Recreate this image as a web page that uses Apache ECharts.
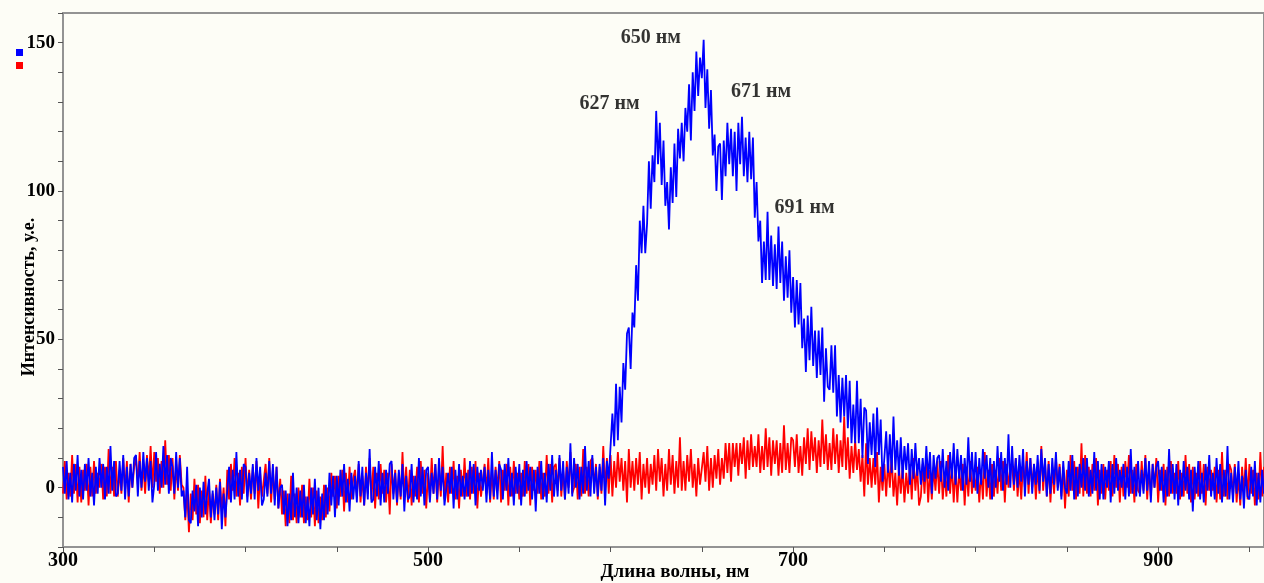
<!DOCTYPE html>
<html>
<head>
<meta charset="utf-8">
<script src="https://cdn.jsdelivr.net/npm/echarts@6/dist/echarts.min.js"></script>
<style>
html,body{margin:0;padding:0;background:#fdfdf6;}
#chart{width:1264px;height:583px;}
</style>
</head>
<body>
<div id="chart"></div>
<script>
// Wavelength sampling grid (nm): first sample and spacing
const startNm = 300;
const stepNm = 1;

// Blue spectrum (one value per nm, 300..959 nm; one row = 10 nm)
const blueValues = [
  7,-2,9,-4,5,-5,8,-1,11,-3,
  6,-4,8,-1,10,-3,5,-6,7,-2,
  10,0,8,-4,7,-2,14,-1,9,-3,
  -2,9,-1,11,-4,7,-3,8,0,10,
  11,-3,9,0,12,2,10,-1,9,-5,
  1,12,-1,8,0,14,1,11,-2,10,
  7,-2,12,0,10,-3,-1,-10,7,-11,
  -12,-1,-8,1,-13,0,-10,2,-9,-2,
  3,-10,-1,-11,0,-9,2,-14,-2,-10,
  -1,7,-5,6,-4,12,-3,6,-4,8,
  7,-5,5,-2,8,-4,10,-1,7,-6,
  -4,5,-3,9,-2,8,-6,7,-7,0,
  1,-9,-1,-13,-2,-11,5,-10,0,-12,
  -1,-10,1,-12,-3,-13,0,-9,3,-11,
  0,-14,-2,-11,1,-9,5,-6,4,-10,
  4,-6,6,-3,8,-5,3,-8,5,-4,
  4,-5,9,-3,7,-6,5,-4,13,-5,
  -4,7,-3,9,-6,5,-5,6,-2,8,
  9,-4,5,-5,6,-3,8,-8,4,-4,
  -3,8,-5,4,-4,10,-3,7,-6,6,
  7,-5,5,-2,8,-4,10,-1,7,-6,
  -6,5,-2,7,-7,6,-4,8,-3,4,
  -4,5,-3,9,-2,8,-6,7,-1,6,
  -1,7,-5,6,-4,12,-3,6,-4,8,
  6,-4,8,-1,10,-3,5,-6,7,-2,
  8,-6,6,-3,9,-1,7,-4,6,-8,
  7,-2,9,-4,5,-5,8,-1,11,-3,
  6,-3,11,-1,9,-4,7,-2,15,-3,
  10,0,8,-4,7,-2,14,-1,9,-3,
  11,-2,7,-3,8,-1,10,-6,9,3,
  3,25,14,35,16,34,22,42,33,52,
  54,40,59,54,75,63,90,79,95,79,
  89,110,94,112,103,127,109,123,102,117,
  95,103,87,108,96,116,98,121,111,123,
  110,128,120,136,117,140,127,147,132,145,
  138,151,128,141,121,134,112,119,100,115,
  116,97,117,105,123,109,121,105,120,100,
  123,109,125,105,118,103,120,104,118,91,
  103,83,90,69,83,70,93,70,85,68,
  82,67,88,69,83,63,78,64,80,59,
  71,54,70,55,69,47,57,39,58,43,
  61,41,53,37,53,38,54,29,47,34,
  33,48,32,48,24,38,22,37,24,38,
  20,36,15,28,15,36,15,30,10,27,
  26,8,22,11,25,7,27,11,23,2,
  10,19,5,18,5,24,6,16,4,17,
  3,14,6,15,1,13,3,15,4,10,
  1,10,2,14,3,12,-2,11,3,10,
  11,2,13,0,9,-1,12,3,15,1,
  13,3,11,-1,10,1,17,2,12,0,
  12,-2,10,1,13,3,11,0,10,-4,
  9,0,14,2,12,-1,10,1,18,0,
  14,1,10,0,11,2,13,-3,9,1,
  10,-2,8,1,11,-1,13,2,10,-3,
  8,-2,10,1,12,-1,7,-4,9,0,
  -2,9,-1,11,-4,7,-3,8,0,10,
  -1,10,-3,6,-2,12,-1,9,-4,8,
  -4,7,0,9,-5,8,-2,10,-1,6,
  0,8,-4,7,-3,13,-2,7,-3,9,
  -3,6,-2,10,-1,9,-5,8,0,7,
  9,-1,7,-5,6,-3,13,-2,8,-4,
  8,-6,6,-3,9,-1,7,-4,6,-8,
  7,-2,9,-4,5,-5,8,-1,11,-3,
  5,-4,10,-2,8,-5,6,-3,14,-4,
  5,-5,7,-2,9,-4,4,-7,6,-3,
  -4,7,-3,9,-6,5,-5,6,-2,8
];

// Red spectrum (one value per nm, 300..959 nm; one row = 10 nm)
const redValues = [
  -2,9,-4,5,-3,11,-2,8,-5,7,
  -5,6,-1,8,-6,7,-3,9,-2,5,
  0,8,-4,7,-3,13,-2,7,-3,9,
  -3,6,-2,10,-1,9,-5,8,0,7,
  10,1,12,-1,8,-2,11,2,14,0,
  12,2,10,-2,9,0,16,1,11,-1,
  10,-4,8,-1,11,1,0,-11,-1,-15,
  -2,-11,3,-9,1,-12,-1,-10,4,-11,
  0,-12,-2,-9,1,-11,3,-8,0,-13,
  6,-4,8,-1,10,-3,5,-6,7,-2,
  10,-3,6,-4,7,-2,9,-7,5,-3,
  -3,8,-2,10,-5,6,-4,7,-7,3,
  -9,-1,-13,-2,-12,4,-11,-2,-12,0,
  -10,1,-12,-3,-11,3,-10,0,-13,-1,
  -12,-3,-11,1,-10,0,-8,5,-3,4,
  -7,4,-3,6,-8,5,-5,7,-4,3,
  6,-3,8,-5,4,-6,7,-2,10,-4,
  7,-7,5,-4,8,-2,6,-5,5,-9,
  8,-2,6,-6,5,-4,12,-3,7,-5,
  6,-6,4,-3,7,-5,9,-2,6,-7,
  5,-4,10,-2,8,-5,6,-3,14,-4,
  5,-5,7,-2,9,-4,4,-7,6,-3,
  10,-3,6,-4,7,-2,9,-7,5,-3,
  -3,8,-2,10,-5,6,-4,7,-1,9,
  -5,6,-1,8,-6,7,-3,9,-2,5,
  -4,5,-3,9,-2,8,-6,7,-1,6,
  -2,9,-4,5,-3,11,-2,8,-5,7,
  8,-1,10,-3,6,-4,9,0,12,-2,
  0,8,-4,7,-3,13,-2,7,-3,9,
  10,0,8,-4,7,-2,14,-1,10,-2,
  11,-3,9,0,12,2,10,-1,9,-5,
  13,0,9,-1,10,1,12,-4,8,0,
  10,-2,8,1,11,-1,13,2,10,-3,
  8,-1,13,1,11,-2,9,0,17,-1,
  9,-1,11,2,13,0,8,-3,10,1,
  1,12,2,14,-1,10,0,11,3,13,
  1,10,3,15,5,15,2,15,7,15,
  4,15,8,17,3,16,6,18,7,14,
  7,18,5,14,6,20,7,17,4,16,
  8,16,4,15,5,21,6,15,5,17,
  16,7,18,5,14,4,17,8,20,6,
  19,9,17,5,16,7,23,8,18,6,
  15,6,20,8,18,5,16,7,24,6,
  17,3,14,5,16,6,13,2,11,-3,
  15,1,10,0,10,1,12,-5,7,-1,
  8,-3,9,0,11,-3,5,-6,7,-2,
  7,-5,5,-2,8,-4,10,-1,7,-6,
  -3,8,-2,10,-5,6,-4,7,-1,9,
  -2,9,-4,5,-3,11,-2,8,-5,7,
  -5,6,-1,8,-6,7,-3,9,-2,5,
  -1,7,-5,6,-4,12,-3,6,-4,8,
  -3,6,-2,10,-1,9,-5,8,0,7,
  8,-1,10,-3,6,-4,9,0,12,-2,
  10,0,8,-4,7,-2,14,-1,9,-3,
  9,-5,7,-2,10,0,8,-3,7,-7,
  6,-3,11,-1,9,-4,7,-2,15,-3,
  11,-2,7,-3,8,-1,10,-6,6,-2,
  8,-4,6,-1,9,-3,11,0,8,-5,
  7,-3,9,0,11,-2,6,-5,8,-1,
  -2,9,-1,11,-4,7,-3,8,0,10,
  -5,6,-1,8,-6,7,-3,9,-2,5,
  -2,9,-4,5,-3,11,-2,8,-5,7,
  -4,5,-3,9,-2,8,-6,7,-1,6,
  -1,7,-5,6,-4,12,-3,6,-4,8,
  6,-3,8,-5,4,-6,7,-2,10,-4,
  8,-2,6,-6,5,-4,12,-3,7,-5
];

// Peak annotations: [text, wavelength of label centre, intensity of label centre]
const peakLabels = [
  ['650 нм', 622, 151.5],
  ['627 нм', 599.5, 129.5],
  ['671 нм', 682.5, 133.3],
  ['691 нм', 706.3, 94.4]
];

const xTickLabels = [300, 500, 700, 900];
const yTickLabels = [0, 50, 100, 150];

const xAxisName = 'Длина волны, нм';
const yAxisName = 'Интенсивность, у.е.';

const toPairs = vals => vals.map((v, i) => [startNm + i * stepNm, v]);

const font = '"Liberation Serif", "Times New Roman", serif';
const chart = echarts.init(document.getElementById('chart'), null, {renderer: 'canvas'});
chart.setOption({
  animation: false,
  backgroundColor: '#fdfdf6',
  grid: {
    left: 63, right: 0, top: 13, bottom: 36,
    containLabel: false, outerBoundsMode: 'none',
    show: true, borderColor: '#939393', borderWidth: 2, backgroundColor: 'transparent'
  },
  legend: {
    left: 11, top: 44, orient: 'vertical', itemWidth: 7, itemHeight: 7, itemGap: 6,
    icon: 'rect', formatter: () => '', selectedMode: false,
    data: ['blue', 'red'],
    textStyle: {fontSize: 1}
  },
  xAxis: {
    type: 'value', min: 300, max: 958, interval: 50,
    name: xAxisName, nameLocation: 'middle', nameGap: 16, nameMoveOverlap: false,
    nameTextStyle: {fontFamily: font, fontWeight: 'bold', fontSize: 19, color: '#000', padding: [0, 0, 0, 23]},
    axisLine: {show: true, onZero: false, lineStyle: {color: '#939393', width: 2}},
    axisTick: {show: true, length: 5, lineStyle: {color: '#555', width: 1}},
    axisLabel: {
      margin: 4, fontFamily: font, fontWeight: 'bold', fontSize: 20, color: '#000',
      formatter: v => xTickLabels.includes(v) ? String(v) : ''
    },
    splitLine: {show: false}
  },
  yAxis: {
    type: 'value', min: -20, max: 160, interval: 10,
    name: yAxisName, nameLocation: 'middle', nameGap: 25, nameMoveOverlap: false,
    nameTextStyle: {fontFamily: font, fontWeight: 'bold', fontSize: 18, color: '#000', padding: [0, 34, 0, 0]},
    axisLine: {show: true, onZero: false, lineStyle: {color: '#939393', width: 2}},
    axisTick: {show: true, length: 5, lineStyle: {color: '#555', width: 1}},
    axisLabel: {
      margin: 8, fontFamily: font, fontWeight: 'bold', fontSize: 19, color: '#000',
      formatter: v => yTickLabels.includes(v) ? String(v) : ''
    },
    splitLine: {show: false}
  },
  series: [
    {
      name: 'red', type: 'line', data: toPairs(redValues), showSymbol: false, symbol: 'none',
      sampling: null, lineStyle: {color: '#ff0000', width: 1.8}, itemStyle: {color: '#ff0000'}, z: 2
    },
    {
      name: 'blue', type: 'line', data: toPairs(blueValues), showSymbol: false, symbol: 'none',
      sampling: null, lineStyle: {color: '#0000ff', width: 1.8}, itemStyle: {color: '#0000ff'}, z: 3
    },
    {
      name: 'labels', type: 'scatter', symbolSize: 0, silent: true, z: 5,
      data: peakLabels.map(p => ({value: [p[1], p[2]], name: p[0]})),
      label: {
        show: true, position: 'inside', formatter: p => p.name,
        fontFamily: font, fontWeight: 'bold', fontSize: 20, color: '#000'
      }
    }
  ]
});
</script>
</body>
</html>
